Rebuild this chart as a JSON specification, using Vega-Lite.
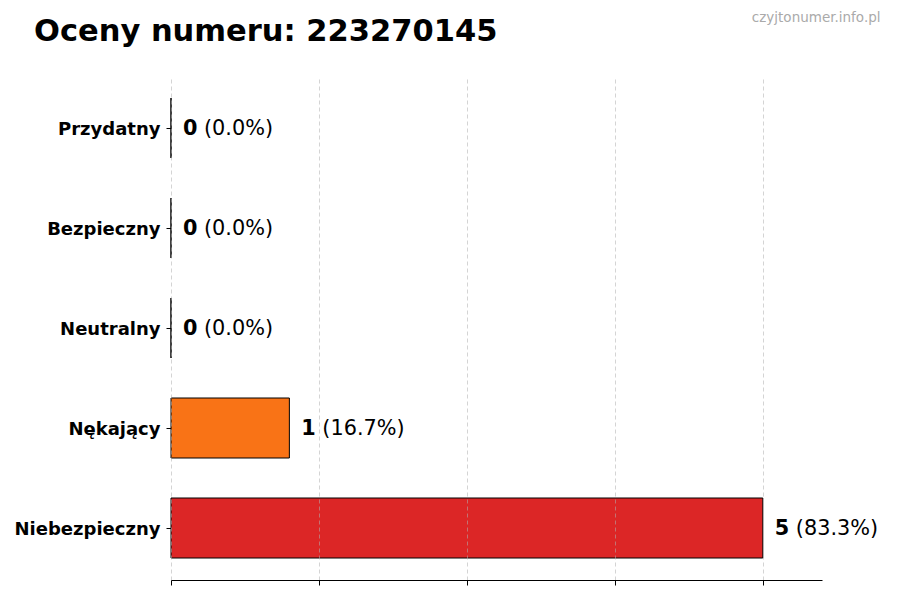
{
  "$schema": "https://vega.github.io/schema/vega-lite/v6.json",
  "width": 651,
  "height": 504,
  "autosize": {"type": "none"},
  "padding": {"left": 171, "top": 76, "right": 78, "bottom": 20},
  "background": "white",
  "title": {
    "text": "Oceny numeru: 223270145",
    "anchor": "start",
    "frame": "group",
    "dx": -137,
    "offset": 0,
    "dy": 37,
    "font": "DejaVu Sans",
    "fontSize": 30.5,
    "fontWeight": "bold",
    "color": "black"
  },
  "data": {
    "values": [
      {"ocena": "Przydatny", "liczba": 0, "procent": "(0.0%)"},
      {"ocena": "Bezpieczny", "liczba": 0, "procent": "(0.0%)"},
      {"ocena": "Neutralny", "liczba": 0, "procent": "(0.0%)"},
      {"ocena": "Nękający", "liczba": 1, "procent": "(16.7%)"},
      {"ocena": "Niebezpieczny", "liczba": 5, "procent": "(83.3%)"}
    ]
  },
  "encoding": {
    "y": {
      "field": "ocena",
      "type": "nominal",
      "sort": null,
      "scale": {"paddingInner": 0.4, "paddingOuter": 0.22},
      "axis": {
        "title": null,
        "domain": false,
        "ticks": true,
        "tickColor": "black",
        "tickSize": 5,
        "labelFont": "DejaVu Sans",
        "labelFontSize": 18,
        "labelFontWeight": "bold",
        "labelColor": "black",
        "labelPadding": 6,
        "labelOffset": 2
      }
    },
    "x": {
      "field": "liczba",
      "type": "quantitative",
      "scale": {"domain": [0, 5.5], "nice": false, "zero": true},
      "axis": null
    }
  },
  "layer": [
    {
      "mark": {"type": "bar", "stroke": "black", "strokeWidth": 1},
      "encoding": {
        "x": {
          "field": "liczba",
          "type": "quantitative",
          "axis": {
            "orient": "bottom",
            "title": null,
            "labels": false,
            "values": [0, 1.25, 2.5, 3.75, 5],
            "domain": true,
            "domainColor": "black",
            "domainWidth": 1,
            "ticks": true,
            "tickColor": "black",
            "tickSize": 5,
            "grid": true,
            "gridColor": "#b0b0b0",
            "gridOpacity": 0.55,
            "gridDash": [4, 3],
            "zindex": 1
          }
        },
        "color": {
          "field": "ocena",
          "type": "nominal",
          "legend": null,
          "scale": {
            "domain": ["Przydatny", "Bezpieczny", "Neutralny", "Nękający", "Niebezpieczny"],
            "range": ["#2563eb", "#16a34a", "#9ca3af", "#f97316", "#dc2626"]
          }
        }
      }
    },
    {
      "mark": {
        "type": "text",
        "align": "left",
        "baseline": "middle",
        "dx": 12,
        "dy": 1,
        "font": "DejaVu Sans",
        "fontSize": 20.8,
        "fontWeight": "bold",
        "color": "black"
      },
      "encoding": {"text": {"field": "liczba", "type": "quantitative"}}
    },
    {
      "mark": {
        "type": "text",
        "align": "left",
        "baseline": "middle",
        "dx": 33,
        "dy": 1,
        "font": "DejaVu Sans",
        "fontSize": 20.8,
        "color": "black"
      },
      "encoding": {
        "text": {"field": "procent", "type": "nominal"},
        "x": {
          "field": "liczba",
          "type": "quantitative",
          "axis": {
            "orient": "top",
            "title": "czyjtonumer.info.pl",
            "titleFont": "DejaVu Sans",
            "titleFontSize": 13.5,
            "titleFontWeight": "normal",
            "titleColor": "#aaaaaa",
            "titleAlign": "right",
            "titleAnchor": null,
            "titleBaseline": "alphabetic",
            "titleX": 709,
            "titleY": -55,
            "domain": false,
            "ticks": false,
            "labels": false,
            "grid": false
          }
        }
      }
    }
  ],
  "resolve": {"axis": {"x": "independent"}},
  "config": {"view": {"stroke": null}}
}
